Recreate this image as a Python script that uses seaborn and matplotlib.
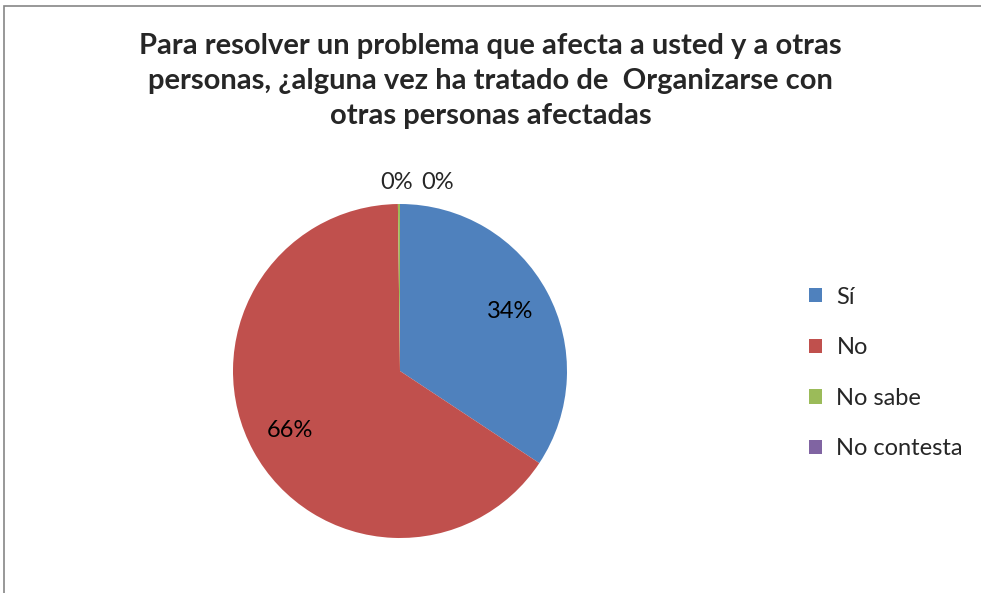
import matplotlib
matplotlib.use("Agg")
import matplotlib.pyplot as plt
import seaborn as sns
from matplotlib.patches import Rectangle

# Datos de la pregunta
categorias = ["Sí", "No", "No sabe", "No contesta"]
valores = [34.3, 65.5, 0.2, 0.0]
colores = ["#4F81BD", "#C0504D", "#9BBB59", "#8064A2"]
titulo = ("Para resolver un problema que afecta a usted y a otras\n"
          "personas, ¿alguna vez ha tratado de  Organizarse con\n"
          "otras personas afectadas")

sns.set_theme(style="white")
plt.rcParams['font.family'] = ['Lato', 'DejaVu Sans']

fig = plt.figure(figsize=(9.81, 5.93), dpi=100)

# marco del gráfico
fig.patches.append(Rectangle((4 / 981, -0.1), 1.1, (593 - 6) / 593 + 0.1,
                             transform=fig.transFigure, fill=False,
                             edgecolor="#868686", linewidth=1.2))

ax = fig.add_axes([233 / 981, 55 / 593, 334 / 981, 334 / 593])

def etiqueta(p):
    return f"{p:.0f}%" if p >= 1 else ""

wedges, textos, autotextos = ax.pie(
    valores, colors=colores, startangle=90, counterclock=False,
    autopct=etiqueta, pctdistance=0.75,
    wedgeprops=dict(linewidth=0),
    textprops=dict(fontsize=17, color="black"))
ax.set_xlim(-1, 1)
ax.set_ylim(-1, 1)
ax.set_aspect("equal")
ax.axis("off")

# etiquetas de los sectores pequeños, fuera del pastel
pequenos = [v for v in valores if v < 1]
for i, v in enumerate(pequenos):
    ax.text(-0.02 + i * 0.245, 1.13, f"{v:.0f}%", ha="center", va="center",
            fontsize=17)

fig.text(0.5, 1 - 81 / 593, titulo, ha="center", va="center",
         fontsize=21, fontweight="bold", linespacing=1.43)

fig.legend(wedges, categorias, loc="center left",
           bbox_to_anchor=(788 / 981, 1 - 373 / 593), frameon=False,
           fontsize=17, handlelength=0.55, handleheight=0.55,
           handletextpad=0.6, labelspacing=1.25)

fig.savefig("out.png", dpi=100)
